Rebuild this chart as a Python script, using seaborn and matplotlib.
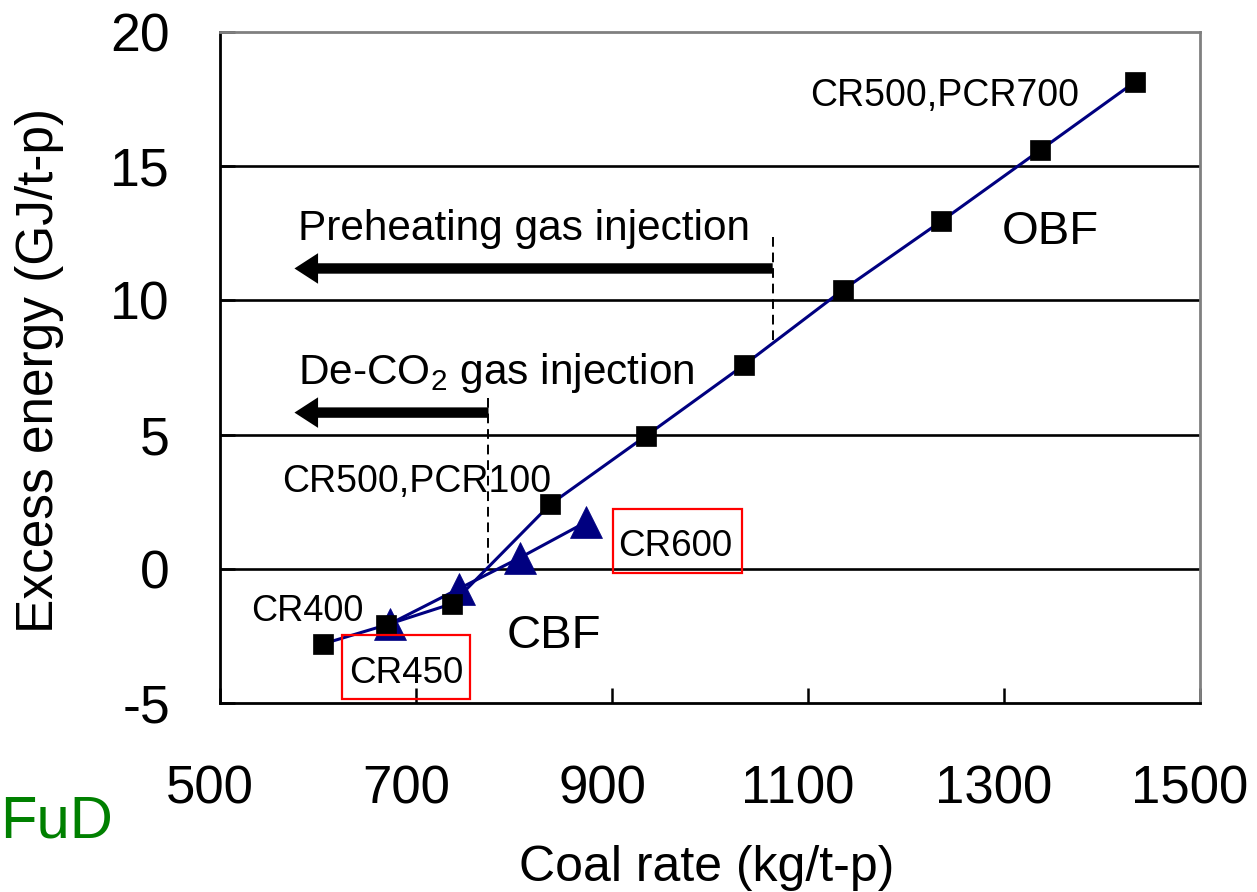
import matplotlib
matplotlib.use("Agg")
import matplotlib.pyplot as plt
from matplotlib.patches import Rectangle
from matplotlib.transforms import ScaledTranslation
import seaborn as sns
import pandas as pd

# ---- data ----
obf_coal = [605, 669, 737, 837, 935, 1035, 1136, 1236, 1337, 1434]
obf_energy = [-2.8, -2.1, -1.3, 2.4, 4.96, 7.6, 10.4, 12.95, 15.6, 18.15]
cbf_coal = [674, 744, 806, 874]
cbf_energy = [-2.04, -0.74, 0.41, 1.75]

x_ticks = [500, 700, 900, 1100, 1300, 1500]
y_ticks = [-5, 0, 5, 10, 15, 20]
grid_levels = [0, 5, 10, 15]

preheat_limit = 1064     # coal rate where preheating gas injection starts
deco2_limit = 774        # coal rate where De-CO2 gas injection starts
arrow_tip = 576

sns.set_theme(style="white")
plt.rcParams["font.family"] = ["Liberation Sans", "DejaVu Sans"]
plt.rcParams.update({"text.color": "black", "axes.labelcolor": "black",
                     "xtick.color": "black", "ytick.color": "black",
                     "mathtext.fontset": "custom",
                     "mathtext.rm": "Liberation Sans"})

fig = plt.figure(figsize=(12.57, 8.92), dpi=100)
ax = fig.add_axes([0.1750, 0.2119, 0.7796, 0.7522])

navy = "#000080"
for yl in grid_levels:
    ax.axhline(yl, color="black", lw=1.9, zorder=1)

df_cbf = pd.DataFrame({"coal": cbf_coal, "energy": cbf_energy})
df_obf = pd.DataFrame({"coal": obf_coal, "energy": obf_energy})

sns.lineplot(data=df_cbf, x="coal", y="energy", ax=ax, sort=False,
             color=navy, lw=2.2, marker="^", markersize=23,
             markerfacecolor=navy, markeredgecolor=navy, markeredgewidth=0.5,
             zorder=3)
sns.lineplot(data=df_obf, x="coal", y="energy", ax=ax, sort=False,
             color=navy, lw=2.2, marker="s", markersize=14.5,
             markerfacecolor="black", markeredgecolor="black", markeredgewidth=0.5,
             zorder=4)

ax.set_xlim(x_ticks[0], x_ticks[-1])
ax.set_ylim(y_ticks[0], y_ticks[-1])
ax.set_xticks(x_ticks)
ax.set_yticks(y_ticks)
ax.set_xticklabels([str(v) for v in x_ticks])
ax.set_yticklabels([str(v) for v in y_ticks])
ax.tick_params(axis="x", direction="in", length=11, width=1.8, color="black",
               labelsize=38, pad=44, bottom=True)
ax.tick_params(axis="y", direction="in", length=11, width=1.8, color="black",
               labelsize=38.5, pad=36, left=True)
shift = ScaledTranslation(-10 / 100, 0, fig.dpi_scale_trans)
for lab in ax.get_xticklabels():
    lab.set_transform(lab.get_transform() + shift)

for side in ["left", "bottom"]:
    ax.spines[side].set_color("black")
    ax.spines[side].set_linewidth(2.0)
for side in ["top", "right"]:
    ax.spines[side].set_color("#808080")
    ax.spines[side].set_linewidth(2.0)

ax.set_xlabel("Coal rate (kg/t-p)", fontsize=36)
ax.xaxis.label.set_verticalalignment("baseline")
ax.xaxis.set_label_coords(0.497, -0.2653)
ax.set_ylabel("Excess energy (GJ/t-p)", fontsize=37)
ax.yaxis.label.set_verticalalignment("baseline")
ax.yaxis.set_label_coords(-0.1704, 0.495)

# ---- injection arrows and limits ----
arrow_kw = dict(arrowstyle="simple,head_length=1.7,head_width=2.2,tail_width=0.75",
                color="black", lw=0, mutation_scale=10, shrinkA=0, shrinkB=0)
ax.annotate("", xy=(arrow_tip, 11.19), xytext=(preheat_limit, 11.19),
            arrowprops=arrow_kw, zorder=5)
ax.annotate("", xy=(arrow_tip, 5.82), xytext=(deco2_limit, 5.82),
            arrowprops=arrow_kw, zorder=5)
ax.plot([preheat_limit, preheat_limit], [12.35, 8.43], color="black",
        lw=1.4, ls=(0, (5, 3)), zorder=2)
ax.plot([deco2_limit, deco2_limit], [6.38, 0.0], color="black",
        lw=1.4, ls=(0, (5, 3)), zorder=2)

ax.text(580, 12.24, "Preheating gas injection", fontsize=30.5, va="baseline", ha="left")
ax.text(580, 6.9, r"De-CO$_{\mathrm{2}}$ gas injection", fontsize=30.5,
        va="baseline", ha="left")

# ---- point labels ----
ax.text(1102, 17.24, "CR500,PCR700", fontsize=27, va="baseline", ha="left", zorder=6)
ax.text(1298, 12.09, "OBF", fontsize=34, va="baseline", ha="left", zorder=6)
ax.text(563, 2.87, "CR500,PCR100", fontsize=27, va="baseline", ha="left", zorder=6)
ax.text(532, -1.94, "CR400", fontsize=26, va="baseline", ha="left", zorder=6)
ax.text(793, -2.95, "CBF", fontsize=34, va="baseline", ha="left", zorder=6)

ax.text(632, -4.25, "CR450", fontsize=26.5, va="baseline", ha="left", zorder=6)
ax.add_patch(Rectangle((624.5, -4.85), 130.5, 2.39, fill=False, ec="red",
                       lw=1.6, zorder=6, clip_on=False))
ax.text(906, 0.48, "CR600", fontsize=26.5, va="baseline", ha="left", zorder=6)
ax.add_patch(Rectangle((901, -0.15), 132, 2.39, fill=False, ec="red",
                       lw=1.6, zorder=6, clip_on=False))

fig.text(0.0, (892 - 838) / 892, "FuD", color="#008000", fontsize=43,
         ha="left", va="baseline")

fig.savefig("out.png", dpi=100)
